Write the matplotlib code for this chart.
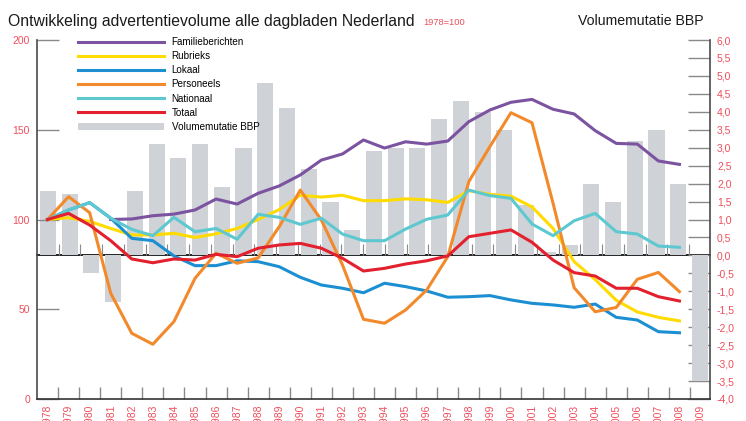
import numpy as np
import matplotlib
matplotlib.use('Agg')
from matplotlib import pyplot as plt
from matplotlib.ticker import FuncFormatter

nan = np.nan
years = list(range(1978, 2009))
familie = [nan, nan, nan, 100, 100.3, 102.1, 103, 105.3, 111.4, 108.6, 114.6,
           118.7, 124.8, 133.1, 136.5, 144.3, 139.8, 143.3, 142, 143.7, 154.5,
           161, 165.3, 166.9, 161.4, 158.8, 149.5, 142.4, 142, 132.6, 130.7]
rubrieks = [100, 101, 99, 95, 91.4, 91.4, 92.3, 90, 92, 95, 100,
            105.5, 113.5, 112.5, 113.5, 110.5, 110.5, 111.5, 111, 109.5, 116,
            114, 113, 107, 95, 76.5, 66.5, 55, 48.5, 45.5, 43.5]
lokaal = [100, 105.3, 109.4, 100.7, 89.5, 88.2, 79.7, 74.3, 74.3, 77, 76.5,
          73.7, 67.8, 63.5, 61.7, 59.2, 64.5, 62.6, 60.2, 56.7, 57,
          57.6, 55.2, 53.3, 52.4, 51.1, 52.9, 45.5, 44, 37.5, 36.9]
personeels = [100, 112.7, 103.8, 58.9, 36.6, 30.5, 43.1, 67.2, 81.2, 75.6, 78.6,
              96, 116.4, 99.7, 74.7, 44.4, 42.2, 49.6, 60.7, 79.3, 121.1,
              140.6, 159.5, 153.9, 109, 62, 48.6, 51, 66.7, 70.5, 59.8]
nationaal = [100, 105.3, 109.4, 100.7, 94.5, 91, 101.2, 93.2, 95, 89, 102.9,
             101.2, 97.3, 100.7, 91.9, 88.2, 88.2, 94.7, 100.1, 102.5, 116.4,
             113.3, 111.8, 97.5, 91, 99.3, 103.4, 93.2, 91.9, 85.2, 84.5]
totaal = [100, 103.4, 96.9, 88.2, 78, 75.9, 78, 77.4, 80.6, 79.3, 84,
          85.8, 86.7, 84, 78.4, 71.3, 72.8, 75.2, 77, 79.7, 90.4,
          92.3, 94.2, 87.3, 77.4, 70.4, 68.5, 61.7, 61.7, 57, 54.6]
# volumemutatie BBP 1979-2009 (31 bars, spread over the full width)
bbp = [1.8, 1.7, -0.5, -1.3, 1.8, 3.1, 2.7, 3.1, 1.9, 3.0, 4.8,
       4.1, 2.4, 1.5, 0.7, 2.9, 3.0, 3.0, 3.8, 4.3, 4.0,
       3.5, 1.4, 0.1, 0.3, 2.0, 1.5, 3.2, 3.5, 2.0, -3.5]
label_years = list(range(1978, 2010))

series = [('Familieberichten', familie, '#7b53a0'),
          ('Rubrieks', rubrieks, '#ffdb00'),
          ('Lokaal', lokaal, '#1b8fd2'),
          ('Personeels', personeels, '#f28a2c'),
          ('Nationaal', nationaal, '#5ec8d0'),
          ('Totaal', totaal, '#e3202e')]

red = '#ee4e5c'
grey_tick = '#8a8a8a'
spine_c = '#4a4a4a'
plt.rcParams['font.family'] = ['Liberation Sans', 'DejaVu Sans']

fig = plt.figure(figsize=(7.46, 4.21), dpi=100)
pos = [37 / 746, 1 - 399 / 421, (710 - 37) / 746, (399 - 40) / 421]

# bars on their own axes (right scale)
axb = fig.add_axes(pos)
idx = np.arange(len(bbp))
bars = axb.bar(idx, bbp, width=0.74, color='#cfd2d6', zorder=2)
axb.set_xlim(-0.5, 30.46)
axb.set_ylim(-4, 6)
for s in ['top', 'left']:
    axb.spines[s].set_visible(False)
axb.spines['right'].set_color(spine_c)
axb.spines['right'].set_linewidth(1.2)
axb.spines['bottom'].set_position(('data', 0))
axb.spines['bottom'].set_color('black')
axb.spines['bottom'].set_linewidth(1.2)
axb.spines['bottom'].set_zorder(1)
axb.set_xticks(idx[:-1] + 0.5)
axb.tick_params(axis='x', direction='in', length=8, color=grey_tick, labelbottom=False)
axb.yaxis.tick_right()
axb.set_yticks(np.arange(-4, 6.01, 0.5))
axb.yaxis.set_major_formatter(FuncFormatter(lambda v, p: ('%.1f' % v).replace('.', ',')))
axb.tick_params(axis='y', direction='in', length=16, width=1, color=grey_tick,
                labelcolor=red, labelsize=7.5, pad=5)

# lines on top (left scale)
ax = fig.add_axes(pos)
ax.patch.set_alpha(0)
handles = []
for name, vals, col in series:
    h, = ax.plot(years, vals, color=col, lw=2.2, label=name, zorder=3)
    handles.append(h)
ax.set_xlim(1977.5, 2009.45)
ax.set_ylim(0, 200)
ax.spines['top'].set_visible(False)
ax.spines['right'].set_visible(False)
ax.spines['left'].set_color(spine_c)
ax.spines['left'].set_linewidth(1.2)
ax.spines['bottom'].set_color('#333333')
ax.spines['bottom'].set_linewidth(1.2)
ax.set_yticks([0, 50, 100, 150, 200])
ax.tick_params(axis='y', direction='in', length=16, width=1, color=grey_tick,
               labelcolor=red, labelsize=7.5, pad=5)
ax.set_xticks(label_years)
ax.set_xticklabels([str(y) for y in label_years], rotation=90, va='top')
ax.set_xticks(np.arange(1978.5, 2009), minor=True)
ax.tick_params(axis='x', which='major', length=0, labelcolor=red, labelsize=7.5, pad=4)
ax.tick_params(axis='x', which='minor', direction='in', length=9, width=1, color=grey_tick)

leg = ax.legend(handles + [bars], [s[0] for s in series] + ['Volumemutatie BBP'],
                loc='upper left', bbox_to_anchor=(78 / 746, 1 - 37 / 421),
                bbox_transform=fig.transFigure, frameon=False, borderpad=0,
                borderaxespad=0, handlelength=8.7, handletextpad=0.8,
                labelspacing=0.42, prop={'size': 7.1})

fig.text(8 / 746, 1 - 26 / 421, 'Ontwikkeling advertentievolume alle dagbladen Nederland',
         fontsize=11.3, va='baseline', ha='left', color='#1a1a1a')
fig.text(423 / 746, 1 - 25 / 421, '1978=100', fontsize=6.7, color=red,
         va='baseline', ha='left')
fig.text(704 / 746, 1 - 25 / 421, 'Volumemutatie BBP', fontsize=10.2,
         va='baseline', ha='right', color='#1a1a1a')

fig.savefig('out.png', dpi=100)
